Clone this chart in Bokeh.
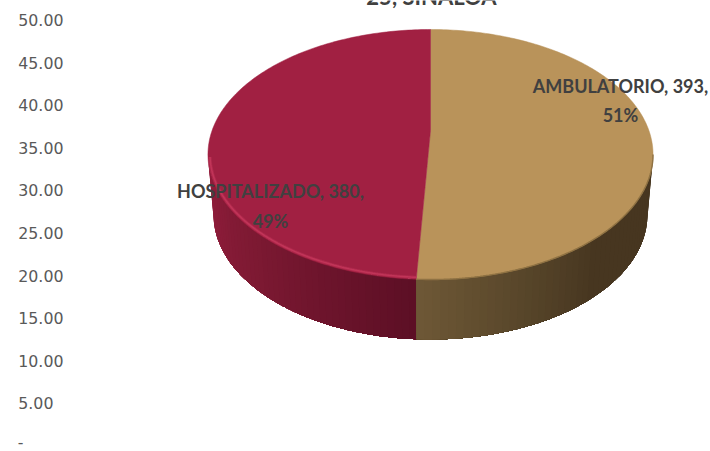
import math
import numpy as np
from bokeh.plotting import figure
from bokeh.models import Range1d, FixedTicker
from bokeh.core.properties import value
from bokeh.embed import file_html
from bokeh.resources import INLINE

categories = ["AMBULATORIO", "HOSPITALIZADO"]
counts = [393, 380]
percent_labels = ["51%", "49%"]
title_fragment = "25, SINALOA"
tick_values = [0, 5, 10, 15, 20, 25, 30, 35, 40, 45, 50]
NB = "\u00a0"
tick_labels = ["-" + NB * 8, "5.00" + NB * 2, "10.00", "15.00", "20.00", "25.00",
               "30.00", "35.00", "40.00", "45.00", "50.00"]

W, H = 710, 451
LEFT = 72
PX_PER_UNIT = 8.52
ZERO_Y = 446

p = figure(width=W, height=H, output_backend="svg", toolbar_location=None,
           x_range=Range1d(LEFT, W),
           y_range=Range1d((ZERO_Y - H) / PX_PER_UNIT, ZERO_Y / PX_PER_UNIT),
           min_border=0, min_border_left=LEFT, min_border_right=0, min_border_top=0, min_border_bottom=0,
           outline_line_color=None, background_fill_color="white", border_fill_color="white")
p.extra_y_ranges = {"px": Range1d(H, 0)}
p.xgrid.visible = False
p.ygrid.visible = False
p.xaxis.visible = False
yax = p.yaxis[0]
yax.ticker = FixedTicker(ticks=tick_values)
yax.major_label_overrides = dict(zip(tick_values, tick_labels))
yax.axis_line_color = None
yax.major_tick_line_color = None
yax.minor_tick_line_color = None
yax.major_tick_in = 0
yax.major_tick_out = 0
yax.major_label_standoff = 9
yax.major_label_text_font = "DejaVu Sans"
yax.major_label_text_font_style = "normal"
yax.major_label_text_font_size = "15.8px"
yax.major_label_text_color = "#595959"

# pie geometry: a circle seen in perspective
CX, PIVOT_Y = 430.0, 130.0
K, SX, SY = 0.192, 218.4, 120.4
DEPTH_CY, DEPTH_RX, DEPTH_RY = 214.0, 217.0, 125.0
TOP_CY, TOP_RX, TOP_RY = 154.0, 222.5, 125.0


def project(theta):
    u, v = np.sin(theta), -np.cos(theta)
    w = 1 - K * v
    return CX + SX * u / w, PIVOT_Y + SY * v / w


split = 2 * math.pi * counts[0] / sum(counts)
split_x, _ = project(np.array([split]))
t0 = math.acos((split_x[0] - CX) / TOP_RX)


def mix(stops, f):
    pos = [s[0] for s in stops]
    rgb = [np.interp(f, pos, [s[1][i] for s in stops]) for i in range(3)]
    return "#%02x%02x%02x" % tuple(int(round(x)) for x in rgb)


def wall(t_a, t_b, stops, n=45):
    # every strip runs to the end of the arc and the next paints over it: no seams
    ts = np.linspace(t_a, t_b, n + 1)
    qx, qy, cols = [], [], []
    for i in range(n):
        arc = np.linspace(ts[i], t_b, max(2, (n - i) * 2 + 1))
        qx.append(np.r_[CX + TOP_RX * np.cos(arc), CX + DEPTH_RX * np.cos(arc[::-1])])
        qy.append(np.r_[TOP_CY + TOP_RY * np.sin(arc), DEPTH_CY + DEPTH_RY * np.sin(arc[::-1])])
        cols.append(mix(stops, (i + 0.5) / n))
    p.patches(qx, qy, fill_color=cols, line_color=None, y_range_name="px")


wall(math.pi, t0, [(0, (146, 29, 60)), (0.45, (124, 25, 50)), (1, (92, 15, 37))])
wall(0.0, t0, [(0, (71, 54, 32)), (0.45, (71, 54, 32)), (0.7, (88, 70, 42)), (1, (110, 88, 54))])

top_colors = ["#b9935a", "#a12042"]
spans = [(0.0, split), (split, 2 * math.pi)]
for (a, b), c in zip(spans, top_colors):
    xs, ys = project(np.linspace(a, b, 180))
    p.patch(np.r_[CX, xs], np.r_[PIVOT_Y, ys], fill_color=c, line_color=c, line_width=0.5, y_range_name="px")

# soft rims along the front edge of the top face
rim_t = np.linspace(math.pi - 0.02, t0, 120)
rim_x = CX + (TOP_RX - 2) * np.cos(rim_t)
rim_y = TOP_CY + (TOP_RY - 2) * np.sin(rim_t)
p.line(rim_x, rim_y, line_color="#c93a5e", line_width=3.2, line_alpha=0.35, y_range_name="px")
p.line(rim_x, rim_y, line_color="#c93a5e", line_width=1.5, line_alpha=0.7, y_range_name="px")
rim_t2 = np.linspace(t0, 0, 120)
p.line(CX + TOP_RX * np.cos(rim_t2), TOP_CY + TOP_RY * np.sin(rim_t2),
       line_color="#8f7243", line_width=1.4, y_range_name="px")

label_style = dict(text_font=value("Lato"), text_font_style="bold", text_font_size="18px",
                   text_color="#404040", text_align="center", text_baseline="middle", y_range_name="px")
label_x = [620, 270]
line1_y = [85, 190]
line2_y = [114, 220]
for i in range(2):
    p.text([label_x[i]], [line1_y[i]], text=[f"{categories[i]}, {counts[i]},"], **label_style)
    p.text([label_x[i]], [line2_y[i]], text=[percent_labels[i]], **label_style)
title_style = dict(label_style, text_font_size="22px")
p.text([431], [-4], text=[title_fragment], **title_style)

open("out.html", "w").write(file_html(p, INLINE))
